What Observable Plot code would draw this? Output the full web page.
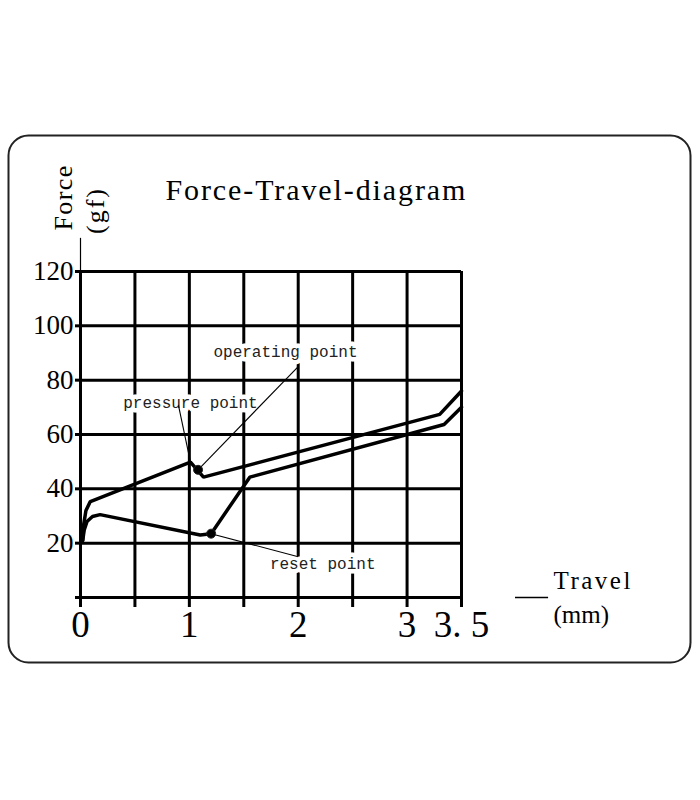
<!DOCTYPE html>
<html>
<head>
<meta charset="utf-8">
<script src="https://cdn.jsdelivr.net/npm/d3@7"></script>
<script src="https://cdn.jsdelivr.net/npm/@observablehq/plot@0.6"></script>
<style>
  html, body { margin: 0; padding: 0; background: white; }
  #chart svg { display: block; }
</style>
</head>
<body>
<div id="chart"></div>
<script>
// ---- data ----
const pressTravel = [0.02, 0.03, 0.05, 0.09, 1.01, 1.13, 3.30, 3.50];
const pressForce  = [21,   27,   32,   35.3, 49.8, 44.3, 67.4, 76];

const returnTravel = [3.50, 3.34, 1.555, 1.20, 1.10, 0.18, 0.11, 0.06, 0.035, 0.02];
const returnForce  = [70,   63.7, 44.3,  23.5, 23,   30.5, 29.8, 28,   25,    21];

const pointNames  = ["operating point", "reset point"];
const pointTravel = [1.08, 1.20];
const pointForce  = [47,   23.5];

const annLabels = ["pressure point", "operating point", "reset point"];
const annTravel = [1.01, 1.883, 2.225];
const annForce  = [71.6, 90.4, 12.4];
const leaderFromTravel = [0.90, 2.00, 1.20];
const leaderFromForce  = [70.7, 85.0, 23.5];
const leaderToTravel   = [1.01, 1.08, 2.00];
const leaderToForce    = [49.8, 47.0, 15.0];

const xTicks = [0, 0.5, 1, 1.5, 2, 2.5, 3, 3.5];
const xTickLabels = ["0", "", "1", "", "2", "", "3", "3. 5"];
const yTicks = [0, 20, 40, 60, 80, 100, 120];
const yTickLabels = ["", "20", "40", "60", "80", "100", "120"];

const titleText = "Force-Travel-diagram";
const yLabel1 = "Force", yLabel2 = "(gf)";
const xLabel1 = "Travel", xLabel2 = "(mm)";

// ---- tables for the library ----
const press = pressTravel.map((t, i) => ({travel: t, force: pressForce[i]}));
const ret = returnTravel.map((t, i) => ({travel: t, force: returnForce[i]}));
const pts = pointNames.map((n, i) => ({name: n, travel: pointTravel[i], force: pointForce[i]}));
const anns = annLabels.map((l, i) => ({label: l, travel: annTravel[i], force: annForce[i]}));
const leaders = annLabels.map((l, i) => ({
  x1: leaderFromTravel[i], y1: leaderFromForce[i], x2: leaderToTravel[i], y2: leaderToForce[i]
}));

const serif = "'Liberation Serif', 'DejaVu Serif', serif";
const mono = "'Liberation Mono', 'DejaVu Sans Mono', monospace";

const chart = Plot.plot({
  width: 700,
  height: 800,
  marginLeft: 80,
  marginRight: 239,
  marginTop: 271,
  marginBottom: 203,
  x: {domain: [0, 3.5]},
  y: {domain: [0, 120]},
  style: {fontFamily: serif, background: "white", color: "black", overflow: "visible"},
  marks: [
    Plot.frame({rx: 20, stroke: "#222", strokeWidth: 2, fill: "none",
      insetTop: -136, insetLeft: -72, insetRight: -229, insetBottom: -65}),
    Plot.gridX(xTicks, {stroke: "black", strokeOpacity: 1, strokeWidth: 3}),
    Plot.gridY(yTicks, {stroke: "black", strokeOpacity: 1, strokeWidth: 3}),
    Plot.axisX(xTicks, {tickSize: 10, tickPadding: 3, strokeWidth: 3, fontSize: 37,
      fontFamily: serif, label: null,
      tickFormat: d => xTickLabels[xTicks.indexOf(d)]}),
    Plot.axisY(yTicks, {tickSize: 5, tickPadding: 2, strokeWidth: 3, fontSize: 27,
      fontFamily: serif, label: null,
      tickFormat: d => yTickLabels[yTicks.indexOf(d)]}),
    Plot.ruleX([0], {y1: 120, y2: 132.2, stroke: "black", strokeWidth: 1.2}),
    // title and axis labels
    Plot.text([titleText], {frameAnchor: "top-left", dx: 85, dy: -81, textAnchor: "start",
      lineAnchor: "middle", fontSize: 30, fontFamily: serif}),
    Plot.text([yLabel1], {frameAnchor: "top-left", dx: -17, dy: -74, rotate: -90,
      textAnchor: "middle", lineAnchor: "middle", fontSize: 26, fontFamily: serif}),
    Plot.text([yLabel2], {frameAnchor: "top-left", dx: 15, dy: -61, rotate: -90,
      textAnchor: "middle", lineAnchor: "middle", fontSize: 26, fontFamily: serif}),
    Plot.ruleY([0], {x1: 3.996, x2: 4.30, stroke: "black", strokeWidth: 1.3}),
    Plot.text([xLabel1], {frameAnchor: "bottom-right", dx: 92, dy: -17, textAnchor: "start",
      lineAnchor: "middle", fontSize: 25, fontFamily: serif}),
    Plot.text([xLabel2], {frameAnchor: "bottom-right", dx: 92, dy: 17, textAnchor: "start",
      lineAnchor: "middle", fontSize: 25, fontFamily: serif}),
    // annotations with white backing that breaks the grid
    Plot.text(anns, {x: "travel", y: "force", text: "label", fontSize: 16, fontFamily: mono,
      fill: "#222", stroke: "white", strokeWidth: 9, textAnchor: "middle"}),
    Plot.link(leaders, {x1: "x1", y1: "y1", x2: "x2", y2: "y2", stroke: "black", strokeWidth: 1.1}),
    // curves
    Plot.line(press, {x: "travel", y: "force", stroke: "black", strokeWidth: 3.5, strokeLinejoin: "miter"}),
    Plot.line(ret, {x: "travel", y: "force", stroke: "black", strokeWidth: 3.5, strokeLinejoin: "miter"}),
    Plot.dot(pts, {x: "travel", y: "force", r: 4.5, fill: "black", stroke: "#222", strokeWidth: 1})
  ]
});

// letter spacing for the wide, typewriter-like headings of the original
const spacing = new Map([[titleText, "1.9px"], [xLabel1, "2.5px"], [yLabel1, "1.4px"], [yLabel2, "2px"]]);
d3.select(chart).selectAll("text").each(function () {
  const s = spacing.get(this.textContent);
  if (s) this.style.letterSpacing = s;
});

document.getElementById("chart").append(chart);
</script>
</body>
</html>
